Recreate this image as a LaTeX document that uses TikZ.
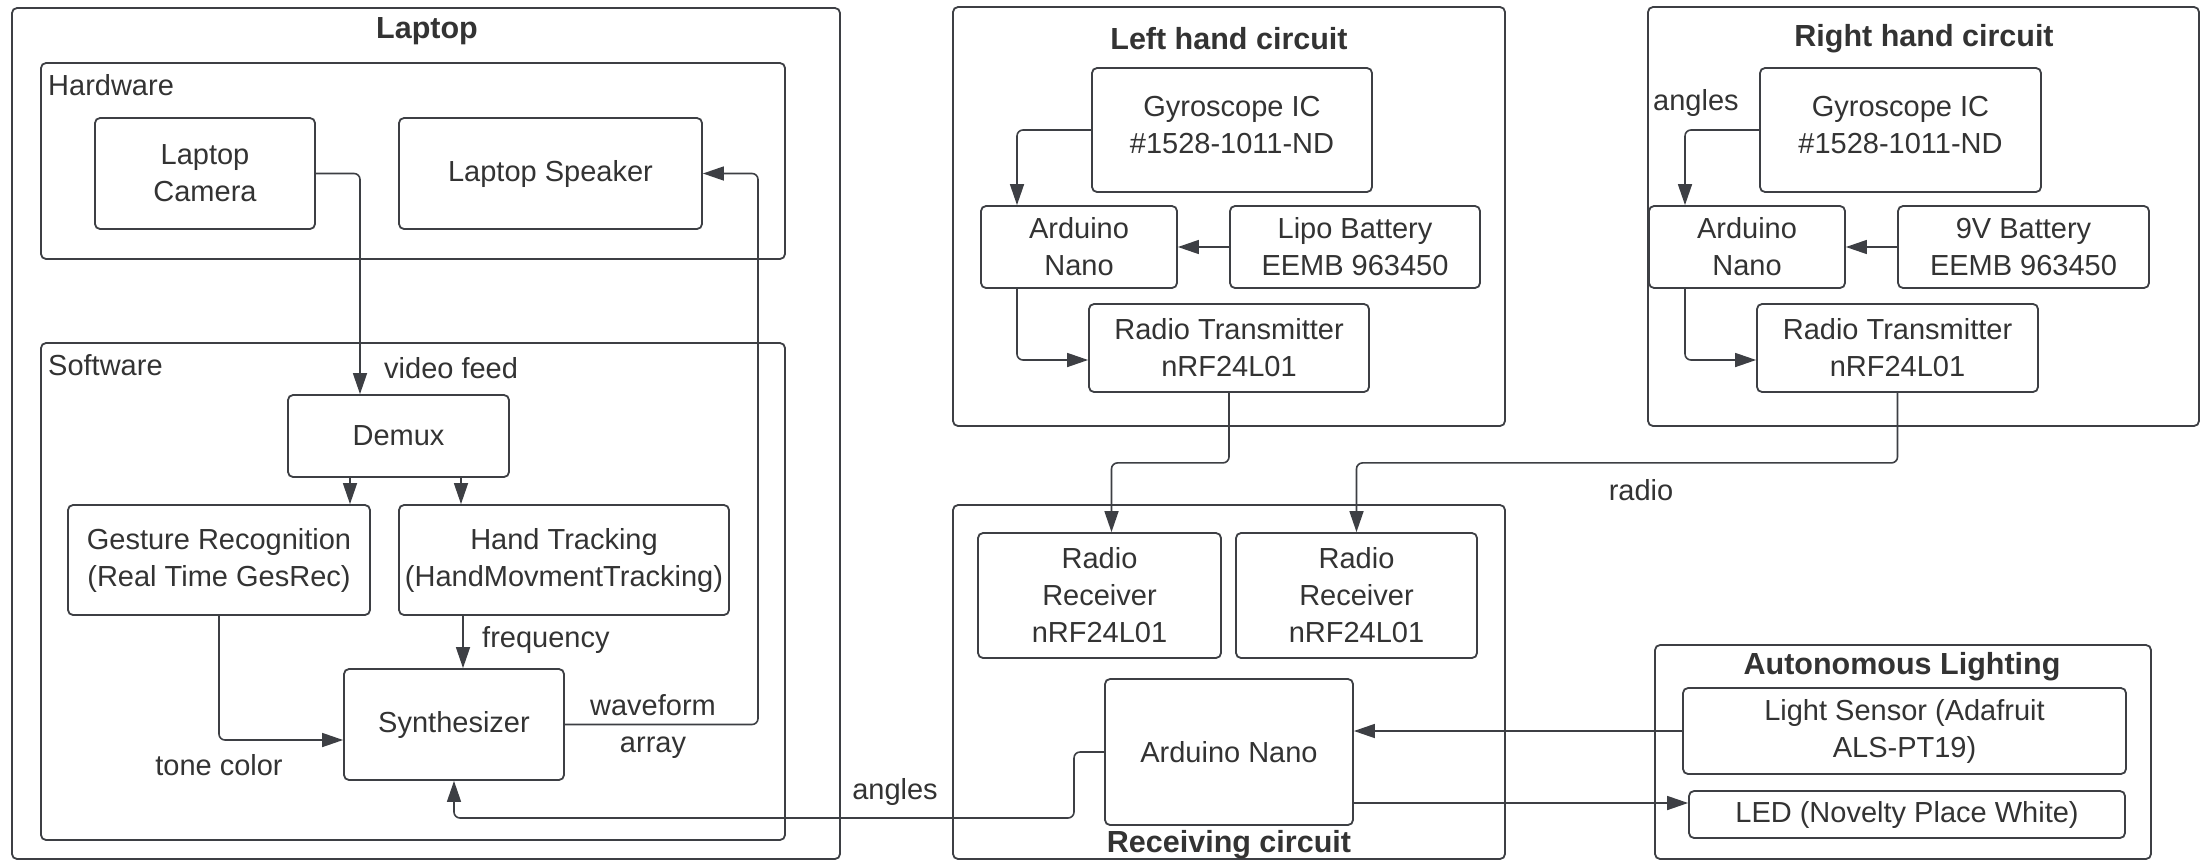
\documentclass[tikz,border=0pt]{standalone}
\usepackage{fontspec}
\setmainfont{Liberation Sans}
\usetikzlibrary{arrows.meta,calc}
\definecolor{linec}{HTML}{3D3F44}
\definecolor{textc}{HTML}{333333}
\begin{document}
\begin{tikzpicture}[x=1pt,y=-1pt,
  blk/.style 2 args={draw=linec, line width=1.8pt, rounded corners=5pt, minimum width=#1, minimum height=#2, inner sep=0pt, align=center, text=textc, font=\fontsize{29}{37}\selectfont},
  ttl/.style={inner sep=0pt, text=textc, font=\fontsize{30.5}{37}\selectfont\bfseries},
  lbl/.style={inner sep=0pt, text=textc, align=center, font=\fontsize{29}{37}\selectfont},
  arr/.style={draw=linec, line width=1.6pt, rounded corners=6pt, -{Triangle[length=21pt,width=14pt]}},
  ln/.style={draw=linec, line width=1.6pt, rounded corners=6pt}]
\useasboundingbox (0,0) rectangle (2206,863);
\fill[white] (0,0) rectangle (2206,863);
% containers
\node[blk={828pt}{851pt}] (laptop) at (426,433.5) {};
\node[blk={744pt}{196pt}] (hw) at (413,161) {};
\node[blk={744pt}{497pt}] (sw) at (413,591.5) {};
\node[blk={552pt}{419pt}] (lhc) at (1229,216.5) {};
\node[blk={551pt}{419pt}] (rhc) at (1923.5,216.5) {};
\node[blk={552pt}{354pt}] (rcv) at (1229,682) {};
\node[blk={496pt}{214pt}] (aut) at (1903,752) {};
% titles
\node[ttl] (tlaptop) at (427,31) {Laptop};
\node[ttl] (tlhc) at (1229,39) {Left hand circuit};
\node[ttl] (trhc) at (1924,39) {Right hand circuit};
\node[ttl] (trcv) at (1229,845) {Receiving circuit};
\node[ttl] (taut) at (1902,667) {Autonomous Lighting};
\node[lbl, anchor=west] (thw) at (48,85) {Hardware};
\node[lbl, anchor=west] (tsw) at (48,365) {Software};
% laptop nodes
\node[blk={220pt}{111pt}] (cam) at (205,173.5) {Laptop\\Camera};
\node[blk={303pt}{111pt}] (spk) at (550.5,173.5) {Laptop Speaker};
\node[blk={221pt}{82pt}] (demux) at (398.5,436) {Demux};
\node[blk={302pt}{110pt}] (ges) at (219,560) {Gesture Recognition\\(Real Time GesRec)};
\node[blk={330pt}{110pt}] (hand) at (564,560) {Hand Tracking\\(HandMovmentTracking)};
\node[blk={220pt}{111pt}] (syn) at (454,724.5) {Synthesizer};
% left hand circuit
\node[blk={280pt}{124pt}] (lgyro) at (1232,130) {Gyroscope IC\\\#1528-1011-ND\\[-27pt]\mbox{}};
\node[blk={196pt}{82pt}] (lard) at (1079,247) {Arduino\\Nano};
\node[blk={250pt}{82pt}] (lbat) at (1355,247) {Lipo Battery\\EEMB 963450};
\node[blk={280pt}{88pt}] (lrad) at (1229,348) {Radio Transmitter\\nRF24L01};
% right hand circuit
\node[blk={281pt}{124pt}] (rgyro) at (1900.5,130) {Gyroscope IC\\\#1528-1011-ND\\[-27pt]\mbox{}};
\node[blk={196pt}{82pt}] (rard) at (1747,247) {Arduino\\Nano};
\node[blk={251pt}{82pt}] (rbat) at (2023.5,247) {9V Battery\\EEMB 963450};
\node[blk={281pt}{88pt}] (rrad) at (1897.5,348) {Radio Transmitter\\nRF24L01};
% receiving circuit
\node[blk={243pt}{125pt}] (rx1) at (1099.5,595.5) {Radio\\Receiver\\nRF24L01};
\node[blk={241pt}{125pt}] (rx2) at (1356.5,595.5) {Radio\\Receiver\\nRF24L01};
\node[blk={248pt}{146pt}] (rard2) at (1229,752) {Arduino Nano};
% autonomous lighting
\node[blk={443pt}{86pt}] (light) at (1904.5,731) {Light Sensor (Adafruit\\ALS-PT19)};
\node[blk={436pt}{47pt}] (led) at (1907,814.5) {LED (Novelty Place White)};
% labels
\node[lbl, anchor=west] (lvid) at (384,368) {video feed};
\node[lbl, anchor=west] (lfreq) at (482,640) {frequency};
\node[lbl] (ltone) at (219,765) {tone color};
\node[lbl] (lwave) at (653,727) {waveform\\array};
\node[lbl] (lang1) at (895,792) {angles};
\node[lbl, anchor=west] (lang2) at (1653,103) {angles};
\node[lbl] (lradio) at (1641,490) {radio};
% coordinates
\coordinate (spkbend) at (758,173.5);
\coordinate (angbend) at (1074,818);
% connectors
\draw[arr] (cam.east) -| ([xshift=-38.5pt]demux.north);
\draw[arr] (syn.east) -| (spkbend) -- (spk.east);
\draw[arr] ([xshift=-48.5pt]demux.south) -- ([xshift=-48.5pt]demux.south |- ges.north);
\draw[arr] ([xshift=62.5pt]demux.south) -- ([xshift=62.5pt]demux.south |- hand.north);
\draw[arr] ([xshift=9pt]syn.north |- hand.south) -- ([xshift=9pt]syn.north);
\draw[arr] (ges.south) |- ([yshift=-15.5pt]syn.west);
\draw[arr] (rard2.west) -| (angbend) -| (syn.south);
\draw[arr] (lgyro.west) -| ([xshift=-62pt]lard.north);
\draw[arr] (lbat.west) -- (lard.east);
\draw[arr] ([xshift=-62pt]lard.south) |- ([yshift=-12pt]lrad.west);
\draw[arr] (rgyro.west) -| ([xshift=-62pt]rard.north);
\draw[arr] (rbat.west) -- (rard.east);
\draw[arr] ([xshift=-62pt]rard.south) |- ([yshift=-12pt]rrad.west);
\draw[arr] (lrad.south) -- ++(0,70) -| ([xshift=12pt]rx1.north);
\draw[arr] (rrad.south) -- ++(0,70) -| (rx2.north);
\draw[arr] (light.west) -- (light.west -| rard2.east);
\draw[arr] ([yshift=-51pt]rard2.east) -- ([yshift=-51pt]rard2.east -| led.west);
\end{tikzpicture}
\end{document}
